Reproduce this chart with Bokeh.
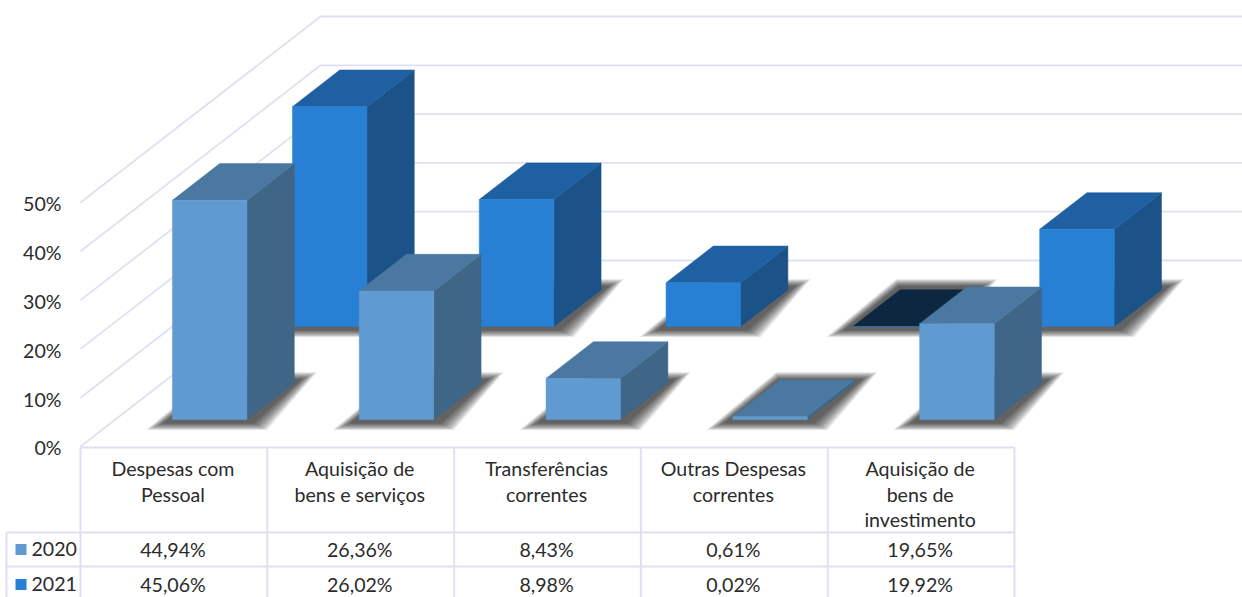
from bokeh.plotting import figure
from bokeh.models import Range1d
from bokeh.core.properties import value
from bokeh.embed import file_html
from bokeh.resources import INLINE

categories = [["Despesas com", "Pessoal"], ["Aquisição de", "bens e serviços"],
              ["Transferências", "correntes"], ["Outras Despesas", "correntes"],
              ["Aquisição de", "bens de", "investimento"]]
series_names = ["2020", "2021"]
values_2020 = [44.94, 26.36, 8.43, 0.61, 19.65]
values_2021 = [45.06, 26.02, 8.98, 0.02, 19.92]
labels_2020 = ["44,94%", "26,36%", "8,43%", "0,61%", "19,65%"]
labels_2021 = ["45,06%", "26,02%", "8,98%", "0,02%", "19,92%"]
ticks = [0, 10, 20, 30, 40, 50]
tick_labels = ["0%", "10%", "20%", "30%", "40%", "50%"]

W, H = 1242, 597
PX_X, PX_Y = 186.8, 4.88      # pixels per category / per percent
X0, Y0 = 80, 446              # pixel of the chart's origin
WALL_DX, WALL_DY = 240 / PX_X, 186 / PX_Y
GRID = "#DFE0F3"
TXT = "#2b2b2b"
FONT = "Lato"

def dx(px): return (px - X0) / PX_X
def dy(px): return (Y0 - px) / PX_Y

p = figure(width=W, height=H, output_backend="svg", toolbar_location=None,
           x_range=Range1d(dx(0), dx(W)), y_range=Range1d(dy(H), dy(0)),
           x_axis_type=None, y_axis_type=None, min_border=0)
p.grid.visible = False
p.outline_line_color = None

# back wall and left wall grid
xs, ys = [], []
for t in ticks:
    xs.append([0, WALL_DX, dx(W)])
    ys.append([t, t + WALL_DY, t + WALL_DY])
p.multi_line(xs, ys, line_color=GRID, line_width=1.8)

# bars
D_START = [0.145, 0.645]
D_LEN = 0.197
INSET, BAR_W = 0.306, 0.399

def project(cat_x, depth, val):
    return cat_x + depth * WALL_DX, val + depth * WALL_DY

def shadow(x0, d0):
    # nested soft outlines: offsets of each base corner in pixels, scaled by t
    out_x, out_y = [], []
    fx, fy = project(x0, d0, 0)
    bx, by = project(x0, d0 + D_LEN, 0)
    for k in range(16):
        t = 1.35 - 0.06 * k
        out_x.append([fx - 20 * t / PX_X, fx + BAR_W + 15 * t / PX_X,
                      bx + BAR_W + 17 * t / PX_X, bx - 3 * t / PX_X])
        out_y.append([fy - 8 * t / PX_Y, fy - 8 * t / PX_Y,
                      by + 8 * t / PX_Y, by + 8 * t / PX_Y])
    return out_x, out_y

styles = [
    dict(front="#5F9BD1", top="#4B78A1", side="#3F6587"),
    dict(front="#2880D5", top="#1F60A2", side="#1B5389"),
]
DARK_TOP = "#0D2740"

def draw_series(vals, s):
    st = styles[s]
    d0 = D_START[s]
    d1 = d0 + D_LEN
    for i, v in enumerate(vals):
        sx, sy = shadow(i + INSET, d0)
        p.patches(sx, sy, fill_color="#000000", fill_alpha=0.055, line_color=None)
    for i, v in enumerate(vals):
        x0 = i + INSET
        x1 = x0 + BAR_W
        top_color = DARK_TOP if v < 0.1 else st["top"]
        a = project(x0, d0, v); b = project(x1, d0, v)
        c = project(x1, d1, v); d = project(x0, d1, v)
        e = project(x1, d0, 0); f = project(x1, d1, 0)
        g = project(x0, d0, 0)
        p.patch([e[0], b[0], c[0], f[0]], [e[1], b[1], c[1], f[1]],
                fill_color=st["side"], line_color=st["side"], line_width=0.5)
        p.patch([a[0], b[0], c[0], d[0]], [a[1], b[1], c[1], d[1]],
                fill_color=top_color, line_color=top_color, line_width=0.5)
        p.patch([g[0], e[0], b[0], a[0]], [g[1], e[1], b[1], a[1]],
                fill_color=st["front"], line_color=st["front"], line_width=0.5)

draw_series(values_2021, 1)
draw_series(values_2020, 0)

# data table grid
n = len(categories)
tx, ty = [], []
for py in [447, 532, 566]:
    left = X0 if py == 447 else 6
    tx.append([dx(left), n]); ty.append([dy(py), dy(py)])
tx.append([dx(6), dx(6)]); ty.append([dy(532), dy(H)])
for i in range(n + 1):
    tx.append([i, i]); ty.append([dy(447), dy(H)])
p.multi_line(tx, ty, line_color=GRID, line_width=2)

# text helper
def put(x, y, text, align="center"):
    p.text([x], [y], text=[text], text_font=value(FONT), text_font_size="19.6px",
           text_color=TXT, text_align=align, text_baseline="middle")

for t, lab in zip(ticks, tick_labels):
    put(dx(61), t - 0.3, lab, "right")

HEADER_Y = [468, 493.5, 519]
for i, lines in enumerate(categories):
    for j, line in enumerate(lines):
        put(i + 0.495, dy(HEADER_Y[j]), line)

ROW_Y = [548.5, 583.5]
for s, (name, labs) in enumerate(zip(series_names, [labels_2020, labels_2021])):
    py = ROW_Y[s]
    for i, lab in enumerate(labs):
        put(i + 0.495, dy(py), lab)
    put(dx(31), dy(py), name, "left")
    p.quad(left=[dx(15)], right=[dx(26)], top=[dy(py - 5)], bottom=[dy(py + 6)],
           fill_color=styles[s]["front"], line_color=None)

open("out.html", "w").write(file_html(p, INLINE))
